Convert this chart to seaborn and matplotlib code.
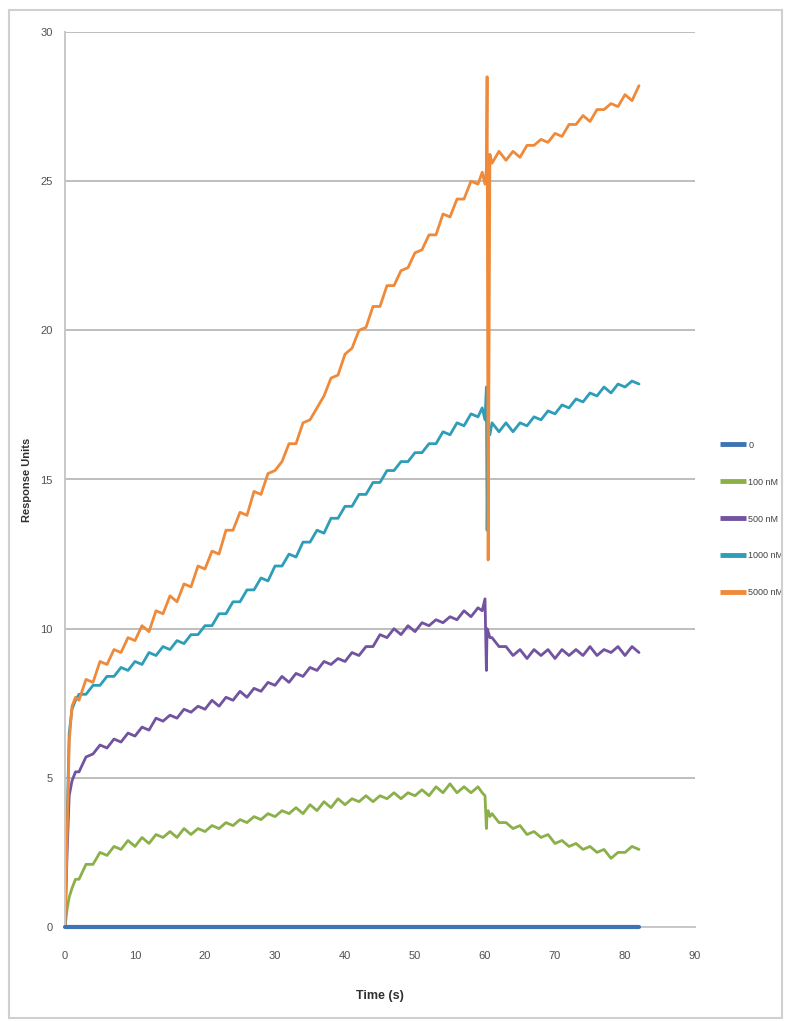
# %%
import numpy as np
import pandas as pd
import seaborn as sns
import matplotlib.pyplot as plt
from matplotlib.patches import Rectangle

sns.set_style("white")
plt.rcParams['font.family'] = ['Liberation Sans', 'DejaVu Sans']

# %%
# sampling times (s) shared by the four binding traces
time_s = [0, 0.3, 0.6, 1.0, 1.5,
          2, 3, 4, 5, 6, 7, 8, 9, 10, 11, 12, 13, 14, 15, 16, 17, 18, 19, 20,
          21, 22, 23, 24, 25, 26, 27, 28, 29, 30, 31, 32, 33, 34, 35, 36, 37, 38, 39, 40,
          41, 42, 43, 44, 45, 46, 47, 48, 49, 50, 51, 52, 53, 54, 55, 56, 57, 58, 59,
          59.6, 60.0, 60.2, 60.3, 60.45, 60.7,
          61, 62, 63, 64, 65, 66, 67, 68, 69, 70, 71, 72, 73, 74, 75, 76, 77, 78, 79, 80, 81, 82]

ru_100nM = [0, 0.6, 1.0, 1.3, 1.6,
            1.6, 2.1, 2.1, 2.5, 2.4, 2.7, 2.6, 2.9, 2.7, 3.0, 2.8, 3.1, 3.0, 3.2, 3.0, 3.3, 3.1, 3.3, 3.2,
            3.4, 3.3, 3.5, 3.4, 3.6, 3.5, 3.7, 3.6, 3.8, 3.7, 3.9, 3.8, 4.0, 3.8, 4.1, 3.9, 4.2, 4.0, 4.3, 4.1,
            4.3, 4.2, 4.4, 4.2, 4.4, 4.3, 4.5, 4.3, 4.5, 4.4, 4.6, 4.4, 4.7, 4.5, 4.8, 4.5, 4.7, 4.5, 4.7,
            4.5, 4.4, 3.3, 3.8, 3.9, 3.7,
            3.8, 3.5, 3.5, 3.3, 3.4, 3.1, 3.2, 3.0, 3.1, 2.8, 2.9, 2.7, 2.8, 2.6, 2.7, 2.5, 2.6, 2.3, 2.5, 2.5, 2.7, 2.6]

ru_500nM = [0, 2.5, 4.4, 4.9, 5.2,
            5.2, 5.7, 5.8, 6.1, 6.0, 6.3, 6.2, 6.5, 6.4, 6.7, 6.6, 7.0, 6.9, 7.1, 7.0, 7.3, 7.2, 7.4, 7.3,
            7.6, 7.4, 7.7, 7.6, 7.9, 7.7, 8.0, 7.9, 8.2, 8.1, 8.4, 8.2, 8.5, 8.4, 8.7, 8.6, 8.9, 8.8, 9.0, 8.9,
            9.2, 9.1, 9.4, 9.4, 9.8, 9.7, 10.0, 9.8, 10.1, 9.9, 10.2, 10.1, 10.3, 10.2, 10.4, 10.3, 10.6, 10.4, 10.7,
            10.6, 11.0, 8.6, 10.0, 9.9, 9.7,
            9.7, 9.4, 9.4, 9.1, 9.3, 9.0, 9.3, 9.1, 9.3, 9.0, 9.3, 9.1, 9.3, 9.1, 9.4, 9.1, 9.3, 9.2, 9.4, 9.1, 9.4, 9.2]

ru_1000nM = [0, 3.5, 6.5, 7.3, 7.6,
             7.8, 7.8, 8.1, 8.1, 8.4, 8.4, 8.7, 8.6, 8.9, 8.8, 9.2, 9.1, 9.4, 9.3, 9.6, 9.5, 9.8, 9.8, 10.1,
             10.1, 10.5, 10.5, 10.9, 10.9, 11.3, 11.3, 11.7, 11.6, 12.1, 12.1, 12.5, 12.4, 12.9, 12.9, 13.3, 13.2, 13.7, 13.7, 14.1,
             14.1, 14.5, 14.5, 14.9, 14.9, 15.3, 15.3, 15.6, 15.6, 15.9, 15.9, 16.2, 16.2, 16.6, 16.5, 16.9, 16.8, 17.2, 17.1,
             17.4, 17.0, 18.1, 13.3, 16.6, 16.5,
             16.9, 16.6, 16.9, 16.6, 16.9, 16.8, 17.1, 17.0, 17.3, 17.2, 17.5, 17.4, 17.7, 17.6, 17.9, 17.8, 18.1, 17.9, 18.2, 18.1, 18.3, 18.2]

ru_5000nM = [0, 3.0, 6.2, 7.4, 7.7,
             7.6, 8.3, 8.2, 8.9, 8.8, 9.3, 9.2, 9.7, 9.6, 10.1, 9.9, 10.6, 10.5, 11.1, 10.9, 11.5, 11.4, 12.1, 12.0,
             12.6, 12.5, 13.3, 13.3, 13.9, 13.8, 14.6, 14.5, 15.2, 15.3, 15.6, 16.2, 16.2, 16.9, 17.0, 17.4, 17.8, 18.4, 18.5, 19.2,
             19.4, 20.0, 20.1, 20.8, 20.8, 21.5, 21.5, 22.0, 22.1, 22.6, 22.7, 23.2, 23.2, 23.9, 23.8, 24.4, 24.4, 25.0, 24.9,
             25.3, 24.9, 25.4, 28.5, 12.3, 25.9,
             25.6, 26.0, 25.7, 26.0, 25.8, 26.2, 26.2, 26.4, 26.3, 26.6, 26.5, 26.9, 26.9, 27.2, 27.0, 27.4, 27.4, 27.6, 27.5, 27.9, 27.7, 28.2]

# the 0 nM reference trace is flat
time_zero = [0, 82]
ru_zero = [0, 0]

labels = ['0', '100 nM', '500 nM', '1000 nM', '5000 nM']
colors = ['#3F74B4', '#8BB04A', '#7253A0', '#2E9DB8', '#EE8A3A']

# %%
frames = [pd.DataFrame({'Time': time_zero, 'RU': ru_zero, 'conc': labels[0]})]
for lab, vals in zip(labels[1:], [ru_100nM, ru_500nM, ru_1000nM, ru_5000nM]):
    frames.append(pd.DataFrame({'Time': time_s, 'RU': vals, 'conc': lab}))
df = pd.concat(frames, ignore_index=True)

# %%
fig = plt.figure(figsize=(7.88, 10.22), dpi=100)
ax = fig.add_axes([65 / 788, 95 / 1022, 630 / 788, 895 / 1022])

for lab, col in zip(labels, colors):
    sub = df[df['conc'] == lab]
    lw = 3.0 if lab == '0' else 2.0
    sns.lineplot(data=sub, x='Time', y='RU', color=col, lw=lw, label=lab,
                 sort=False, estimator=None, ax=ax)
# flat 0 nM line sits on the axis, keep it whole and on top
ax.lines[0].set_clip_on(False)
ax.lines[0].set_zorder(5)

ax.set_xlim(0, 90)
ax.set_ylim(0, 30)
ax.set_xticks(range(0, 91, 10))
ax.set_yticks(range(0, 31, 5))
ax.grid(axis='y', color='#BEBEBE', lw=1.4)
ax.set_axisbelow(True)
for s in ['top', 'right']:
    ax.spines[s].set_visible(False)
for s in ['left', 'bottom']:
    ax.spines[s].set_color('#C8C8C8')
    ax.spines[s].set_linewidth(1.4)
ax.tick_params(axis='both', direction='out', length=4, width=1, color='#C8C8C8',
               labelsize=8, labelcolor='#505050')
ax.tick_params(axis='x', pad=13)
ax.tick_params(axis='y', pad=5)

ax.set_xlabel('Time (s)', fontsize=9, fontweight='bold', color='#303030')
ax.set_ylabel('Response Units', fontsize=8, fontweight='bold', color='#303030')
ax.xaxis.set_label_coords(0.5, -(990 - 927) / 895)
ax.yaxis.set_label_coords(-(65 - 32) / 630, 0.5)

leg = ax.legend(loc='center left', bbox_to_anchor=(715 / 788, 1 - 519 / 1022),
                bbox_transform=fig.transFigure, frameon=False, fontsize=6.5,
                labelspacing=3.1, handlelength=2.9, handletextpad=0.3, borderpad=0)
for h in leg.get_lines():
    h.set_linewidth(3.5)
    h.set_solid_capstyle('butt')
for t in leg.get_texts():
    t.set_color('#404040')

# grey outer frame of the chart
fig.patches.append(Rectangle((9 / 788, 4 / 1022), 773 / 788, 1008 / 1022,
                             transform=fig.transFigure, fill=False,
                             edgecolor='#D0D0D0', lw=1.5))

fig.savefig('out.png', dpi=100)
